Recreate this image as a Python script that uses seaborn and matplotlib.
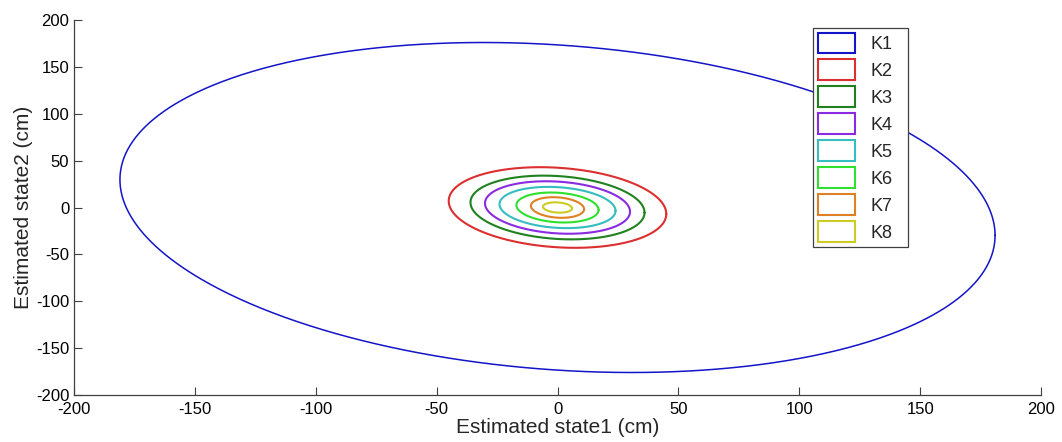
import numpy as np
import pandas as pd
import matplotlib
matplotlib.use("Agg")
import matplotlib.pyplot as plt
from matplotlib.patches import Patch
import seaborn as sns

# Ellipse parameters: x = ax*cos(t), y = ay*sin(t + phase)
labels = ["K1", "K2", "K3", "K4", "K5", "K6", "K7", "K8"]
x_amp = [181, 45, 36, 30, 24, 17, 11, 6]
y_amp = [176, 43, 34, 28, 22, 16, 11, 5.5]
phase = [-0.17, -0.16, -0.16, -0.16, -0.16, -0.16, -0.16, -0.16]
colors = ["#1414c8", "#dc2f2f", "#1f821f", "#8a2be2", "#35bdbf", "#2fe02f", "#e08024", "#cccc22"]
widths = [1.1, 1.5, 1.5, 1.5, 1.5, 1.5, 1.5, 1.5]

xticks = [-200, -150, -100, -50, 0, 50, 100, 150, 200]
yticks = [-200, -150, -100, -50, 0, 50, 100, 150, 200]

t = np.linspace(0, 2 * np.pi, 721)
frames = []
for lab, a, b, p in zip(labels, x_amp, y_amp, phase):
    frames.append(pd.DataFrame({"x": a * np.cos(t), "y": b * np.sin(t + p), "series": lab}))
df = pd.concat(frames, ignore_index=True)

sns.set_style("white")
plt.rcParams["font.family"] = ["Liberation Sans", "DejaVu Sans"]

fig = plt.figure(figsize=(10.62, 4.42), dpi=100)
ax = fig.add_axes([74 / 1062, 1 - 395 / 442, (1041 - 74) / 1062, (395 - 20) / 442])

palette = dict(zip(labels, colors))
for lab, lw in zip(labels, widths):
    sns.lineplot(data=df[df["series"] == lab], x="x", y="y", color=palette[lab],
                 sort=False, estimator=None, linewidth=lw, ax=ax, legend=False)

ax.set_xlim(-200, 200)
ax.set_ylim(-200, 200)
ax.set_xticks(xticks)
ax.set_yticks(yticks)
ax.set_xticklabels([str(v) for v in xticks])
ax.set_yticklabels([str(v) for v in yticks])
ax.tick_params(bottom=True, left=True, top=False, right=False,
               direction="in", length=5.5, width=0.8, color="#404040",
               labelsize=12, labelcolor="black", pad=3.5)
ax.tick_params(axis="x", pad=5)
for s in ["top", "right"]:
    ax.spines[s].set_visible(False)
for s in ["left", "bottom"]:
    ax.spines[s].set_color("#404040")
    ax.spines[s].set_linewidth(0.9)

ax.set_xlabel("Estimated state1 (cm)", fontsize=15, labelpad=1)
ax.set_ylabel("Estimated state2 (cm)", fontsize=15, labelpad=2)

handles = [Patch(facecolor="white", edgecolor=c, linewidth=1.5, label=l) for l, c in zip(labels, colors)]
leg = ax.legend(handles=handles, loc="upper left", mode="expand",
                bbox_to_anchor=(813 / 1062, 1 - 248 / 442, 95 / 1062, 220 / 442),
                bbox_transform=fig.transFigure,
                fontsize=13, handlelength=2.1, handleheight=1.41, labelspacing=0.33,
                handletextpad=0.83, borderpad=0.25, borderaxespad=0, fancybox=False,
                framealpha=1, edgecolor="#404040")
leg.get_frame().set_linewidth(0.9)

fig.savefig("out.png", dpi=100)
